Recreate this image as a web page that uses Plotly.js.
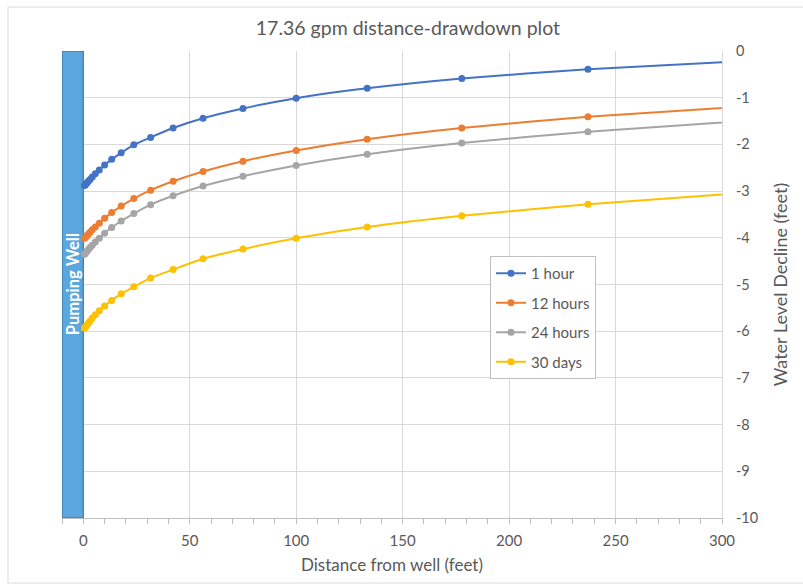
<!DOCTYPE html>
<html>
<head>
<meta charset="utf-8">
<script src="https://cdn.plot.ly/plotly-3.0.1.min.js"></script>
<style>
  html, body { margin: 0; padding: 0; background: #ffffff; }
  #chart { width: 803px; height: 585px; }
</style>
</head>
<body>
<div id="chart"></div>
<script>
// Distance from well (feet)
const distance = [0.56, 0.75, 1.00, 1.34, 1.78, 2.38, 3.17, 4.22, 5.63, 7.51, 10.01, 13.35, 17.80, 23.73, 31.64, 42.19, 56.25, 75, 100, 133.33, 177.78, 237.04, 316.05];

// Water level decline (feet) for each pumping duration
const hour1   = [-2.88, -2.87, -2.86, -2.84, -2.82, -2.79, -2.75, -2.70, -2.63, -2.55, -2.44, -2.32, -2.18, -2.01, -1.85, -1.65, -1.44, -1.23, -1.01, -0.80, -0.59, -0.39, -0.20];
const hours12 = [-4.01, -4.00, -3.99, -3.97, -3.95, -3.92, -3.88, -3.83, -3.77, -3.69, -3.58, -3.46, -3.32, -3.16, -2.98, -2.79, -2.58, -2.36, -2.13, -1.89, -1.65, -1.41, -1.17];
const hours24 = [-4.35, -4.34, -4.33, -4.31, -4.28, -4.25, -4.21, -4.16, -4.09, -4.01, -3.90, -3.78, -3.64, -3.48, -3.29, -3.10, -2.89, -2.68, -2.45, -2.21, -1.97, -1.73, -1.48];
const days30  = [-5.93, -5.92, -5.91, -5.89, -5.86, -5.83, -5.78, -5.72, -5.65, -5.56, -5.46, -5.34, -5.20, -5.05, -4.86, -4.68, -4.45, -4.24, -4.01, -3.77, -3.53, -3.28, -3.02];

const seriesNames = ["1 hour", "12 hours", "24 hours", "30 days"];
const seriesColors = ["#4472C4", "#ED7D31", "#A5A5A5", "#FFC000"];

// Pumping well column
const wellCenter = [-5];
const wellWidth = [10];
const wellDepth = [-10];
const wellLabel = "Pumping Well";

const xTicks = [0, 50, 100, 150, 200, 250, 300];
const yTicks = [0, -1, -2, -3, -4, -5, -6, -7, -8, -9, -10];
const yTickText = ["0", "-1", "-2", "-3", "-4", "-5", "-6", "-7", "-8", "-9", "-10"];

const FONT = "Lato, 'Open Sans', sans-serif";
const TXT = "#595959";

const traces = [{
  type: "bar",
  x: wellCenter,
  y: wellDepth,
  width: wellWidth,
  base: 0,
  marker: { color: "#5AA6DD", line: { color: "#2E6DA4", width: 1 } },
  showlegend: false,
  hoverinfo: "skip"
}];

[hour1, hours12, hours24, days30].forEach((vals, i) => {
  traces.push({
    type: "scatter",
    mode: "lines+markers",
    name: seriesNames[i],
    legendgroup: "g" + i,
    x: distance,
    y: vals,
    line: { color: seriesColors[i], width: 2, shape: "spline", smoothing: 0.6 },
    marker: { color: seriesColors[i], size: 7 },
    cliponaxis: true
  });
});

const layout = {
  width: 803,
  height: 585,
  margin: { l: 62, r: 81, t: 51, b: 67 },
  paper_bgcolor: "#ffffff",
  plot_bgcolor: "#ffffff",
  font: { family: FONT, color: TXT, size: 14.5 },
  showlegend: true,
  title: {
    text: "17.36 gpm distance-drawdown plot",
    font: { family: FONT, size: 19.5, color: TXT },
    x: 0.508, xanchor: "center",
    y: 0.952, yanchor: "middle", yref: "container"
  },
  xaxis: {
    range: [-10, 300],
    tickvals: xTicks,
    ticks: "outside",
    ticklen: 5,
    tickcolor: "#BFBFBF",
    ticklabelstandoff: 4,
    minor: { dtick: 10, tick0: 0, ticks: "outside", ticklen: 5, tickcolor: "#BFBFBF", showgrid: false },
    showgrid: true,
    gridcolor: "#D9D9D9",
    gridwidth: 1,
    zeroline: false,
    showline: true,
    linecolor: "#BFBFBF",
    linewidth: 1,
    tickfont: { family: FONT, size: 15, color: TXT },
    title: { text: "Distance from well (feet)", font: { family: FONT, size: 17, color: TXT }, standoff: 11 },
    fixedrange: true
  },
  yaxis: {
    side: "right",
    range: [-10, 0],
    tickvals: yTicks,
    ticktext: yTickText,
    ticks: "",
    ticklabelstandoff: 10,
    showgrid: true,
    gridcolor: "#D9D9D9",
    gridwidth: 1,
    zeroline: false,
    showline: true,
    linecolor: "#D9D9D9",
    tickfont: { family: FONT, size: 14.5, color: TXT },
    title: { text: "Water Level Decline (feet)", font: { family: FONT, size: 18, color: TXT }, standoff: 17 },
    fixedrange: true
  },
  legend: {
    x: 0.6485, y: 0.561, xanchor: "left", yanchor: "top",
    bgcolor: "#ffffff",
    bordercolor: "#BFBFBF",
    borderwidth: 1,
    font: { family: FONT, size: 15, color: TXT },
    tracegroupgap: 7,
    itemwidth: 30
  },
  bargap: 0,
  annotations: [{
    text: "<b>" + wellLabel + "</b>",
    x: -5, y: -5, xref: "x", yref: "y",
    textangle: -90,
    showarrow: false,
    font: { family: FONT, size: 16.5, color: "#ffffff" }
  }],
  shapes: [{
    type: "rect", xref: "paper", yref: "paper",
    x0: -0.0818, x1: 1.13, y0: -0.1392, y1: 1.0942,
    line: { color: "#D9D9D9", width: 1 }, fillcolor: "rgba(0,0,0,0)", layer: "below"
  }]
};

Plotly.newPlot("chart", traces, layout, { displayModeBar: false, staticPlot: true });
</script>
</body>
</html>
